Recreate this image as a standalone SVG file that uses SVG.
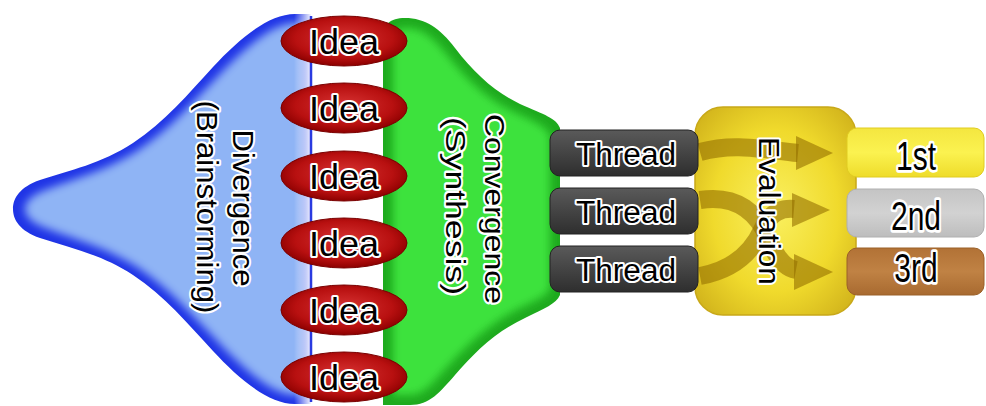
<svg xmlns="http://www.w3.org/2000/svg" width="986" height="406" viewBox="0 0 986 406">
  <style>
    .lbl { font-family: "Liberation Sans", Arial, sans-serif; fill: #000; stroke: #fff; stroke-width: 4; stroke-linejoin: round; paint-order: stroke; text-anchor: middle; }
    .idea-shape { fill: url(#ideaFill); stroke: #7a0000; stroke-width: 1; }
    .thread-box { fill: url(#threadFill); stroke: #222; stroke-width: 1; }
    .flow { fill: none; stroke: #957000; stroke-opacity: 0.6; stroke-width: 18; }
    .flow-head { fill: #957000; fill-opacity: 0.6; }
  </style>
  <defs>
    <radialGradient id="ideaFill" cx="50%" cy="45%" r="55%">
      <stop offset="0" stop-color="#d83434"/>
      <stop offset="0.7" stop-color="#b81010"/>
      <stop offset="1" stop-color="#8c0000"/>
    </radialGradient>
    <linearGradient id="threadFill" x1="0" y1="0" x2="0" y2="1">
      <stop offset="0" stop-color="#5a5a5a"/>
      <stop offset="0.5" stop-color="#444"/>
      <stop offset="1" stop-color="#2e2e2e"/>
    </linearGradient>
    <radialGradient id="evalFill" cx="50%" cy="50%" r="65%">
      <stop offset="0" stop-color="#faf060"/>
      <stop offset="0.6" stop-color="#f0da2c"/>
      <stop offset="1" stop-color="#d2b41c"/>
    </radialGradient>
    <linearGradient id="goldFill" x1="0" y1="0" x2="0" y2="1">
      <stop offset="0" stop-color="#f4e640"/>
      <stop offset="0.5" stop-color="#fbf250"/>
      <stop offset="1" stop-color="#eedc2a"/>
    </linearGradient>
    <linearGradient id="silverFill" x1="0" y1="0" x2="0" y2="1">
      <stop offset="0" stop-color="#c4c4c4"/>
      <stop offset="0.5" stop-color="#d2d2d2"/>
      <stop offset="1" stop-color="#bdbdbd"/>
    </linearGradient>
    <linearGradient id="bronzeFill" x1="0" y1="0" x2="0" y2="1">
      <stop offset="0" stop-color="#b27236"/>
      <stop offset="0.5" stop-color="#c08244"/>
      <stop offset="1" stop-color="#a86a30"/>
    </linearGradient>
    <linearGradient id="fadeWhite" x1="0" y1="0" x2="1" y2="0">
      <stop offset="0" stop-color="#fff" stop-opacity="0"/>
      <stop offset="1" stop-color="#fff" stop-opacity="0.95"/>
    </linearGradient>
    <filter id="soft" x="-10%" y="-10%" width="120%" height="120%">
      <feGaussianBlur stdDeviation="4.5"/>
    </filter>
    <path id="blueOutline" d="M311,14 L295,14 C268,14 238,40 213,67 C188,94 165,122 133,143 C101,164 70,170 40,180 C20,187 13,198 13,209 C13,220 20,231 40,238 C70,248 101,254 133,275 C165,296 188,324 213,351 C238,378 268,404 295,404 L311,404 Z"/>
    <path id="greenOutline" d="M383,40 C383,24 390,18 405,18 C425,18 440,28 455,48 C475,74 495,92 520,104 C545,115 556,118 560,128 L560,295 C556,304 545,308 525,318 C495,332 475,352 455,375 C440,392 430,405 410,405 L383,405 Z"/>
    <clipPath id="blueClip"><use href="#blueOutline"/></clipPath>
    <clipPath id="greenClip"><use href="#greenOutline"/></clipPath>
  </defs>

  <rect width="986" height="406" fill="#fff"/>

  <!-- Divergence funnel -->
  <g id="divergence">
    <use href="#blueOutline" fill="#1f34e6"/>
    <g clip-path="url(#blueClip)">
      <path d="M305,23 L295,23 C272,23 244,49 219,75 C192,103 170,129 137,151 C105,171 74,179 48,189 C31,195 25,202 25,209 C25,216 31,223 48,229 C74,239 105,247 137,267 C170,289 192,315 219,343 C244,369 272,395 295,395 L305,395 Z" fill="#8fb4f5" filter="url(#soft)"/>
      <rect x="294" y="0" width="17" height="406" fill="url(#fadeWhite)"/>
    </g>
    <line x1="311" y1="16" x2="311" y2="402" stroke="#2a3ae0" stroke-width="2.5"/>
    <text class="lbl" font-size="30" textLength="157" lengthAdjust="spacingAndGlyphs" transform="translate(233,208) rotate(90)">Divergence</text>
    <text class="lbl" font-size="30" textLength="213" lengthAdjust="spacingAndGlyphs" transform="translate(197,207) rotate(90)">(Brainstorming)</text>
  </g>

  <!-- Convergence funnel -->
  <g id="convergence">
    <use href="#greenOutline" fill="#1eaa1e"/>
    <g clip-path="url(#greenClip)">
      <path d="M393,40 C393,32 398,28 406,28 C422,28 434,38 448,56 C470,84 492,102 516,113 C536,122 548,128 550,136 L550,288 C548,296 536,300 520,308 C492,322 470,342 448,366 C434,382 424,395 410,395 L393,395 Z" fill="#3ce23c" filter="url(#soft)"/>
    </g>
    <text class="lbl" font-size="28" textLength="190" lengthAdjust="spacingAndGlyphs" transform="translate(485,209) rotate(90)">Convergence</text>
    <text class="lbl" font-size="28" textLength="178" lengthAdjust="spacingAndGlyphs" transform="translate(446,206) rotate(90)">(Synthesis)</text>
  </g>

  <!-- Ideas -->
  <g id="idea1"><ellipse class="idea-shape" cx="344" cy="41" rx="63" ry="25"/><text class="lbl" font-size="35" textLength="70" lengthAdjust="spacingAndGlyphs" x="344" y="53.5">Idea</text></g>
  <g id="idea2"><ellipse class="idea-shape" cx="344" cy="108" rx="63" ry="25"/><text class="lbl" font-size="35" textLength="70" lengthAdjust="spacingAndGlyphs" x="344" y="120.5">Idea</text></g>
  <g id="idea3"><ellipse class="idea-shape" cx="344" cy="176" rx="63" ry="25"/><text class="lbl" font-size="35" textLength="70" lengthAdjust="spacingAndGlyphs" x="344" y="188.5">Idea</text></g>
  <g id="idea4"><ellipse class="idea-shape" cx="344" cy="243" rx="63" ry="25"/><text class="lbl" font-size="35" textLength="70" lengthAdjust="spacingAndGlyphs" x="344" y="255.5">Idea</text></g>
  <g id="idea5"><ellipse class="idea-shape" cx="344" cy="310" rx="63" ry="25"/><text class="lbl" font-size="35" textLength="70" lengthAdjust="spacingAndGlyphs" x="344" y="322.5">Idea</text></g>
  <g id="idea6"><ellipse class="idea-shape" cx="344" cy="377" rx="63" ry="25"/><text class="lbl" font-size="35" textLength="70" lengthAdjust="spacingAndGlyphs" x="344" y="389.5">Idea</text></g>

  <!-- Evaluation stage -->
  <g id="evaluation">
    <rect x="695" y="107" width="161" height="208" rx="28" fill="url(#evalFill)" stroke="#c8a818" stroke-width="1.5"/>
  </g>

  <!-- Ranking flows inside the evaluation stage -->
  <g id="connectors">
    <path class="flow" d="M700,152 C735,142 765,150 798,153"/>
    <polygon class="flow-head" points="796,136 833,153 796,170"/>
    <path class="flow" d="M700,200 C738,194 758,214 768,238 C776,258 785,268 796,270"/>
    <polygon class="flow-head" points="794,254 833,272 794,290"/>
    <path class="flow" d="M700,276 C733,270 752,252 762,230 C770,212 782,208 794,209"/>
    <polygon class="flow-head" points="792,193 830,210 792,227"/>
  </g>

  <text class="lbl" font-size="30" textLength="148" lengthAdjust="spacingAndGlyphs" transform="translate(759,211) rotate(90)">Evaluation</text>

  <!-- Threads -->
  <g id="thread1"><rect class="thread-box" x="550" y="130" width="148" height="46" rx="10"/><text class="lbl" font-size="31" textLength="100" lengthAdjust="spacingAndGlyphs" x="626" y="165">Thread</text></g>
  <g id="thread2"><rect class="thread-box" x="550" y="188" width="148" height="46" rx="10"/><text class="lbl" font-size="31" textLength="100" lengthAdjust="spacingAndGlyphs" x="626" y="223">Thread</text></g>
  <g id="thread3"><rect class="thread-box" x="550" y="246" width="148" height="46" rx="10"/><text class="lbl" font-size="31" textLength="100" lengthAdjust="spacingAndGlyphs" x="626" y="281">Thread</text></g>

  <!-- Rankings -->
  <g id="rank1"><rect x="847" y="128" width="137" height="49" rx="10" fill="url(#goldFill)" stroke="#e0cc20" stroke-width="1"/><text class="lbl" font-size="30" transform="translate(916,170) scale(1,1.35)">1st</text></g>
  <g id="rank2"><rect x="847" y="189" width="137" height="48" rx="10" fill="url(#silverFill)" stroke="#b0b0b0" stroke-width="1"/><text class="lbl" font-size="30" transform="translate(916,230) scale(1,1.35)">2nd</text></g>
  <g id="rank3"><rect x="847" y="248" width="137" height="47" rx="10" fill="url(#bronzeFill)" stroke="#9a6028" stroke-width="1"/><text class="lbl" font-size="30" transform="translate(916,282) scale(1,1.35)">3rd</text></g>
</svg>
